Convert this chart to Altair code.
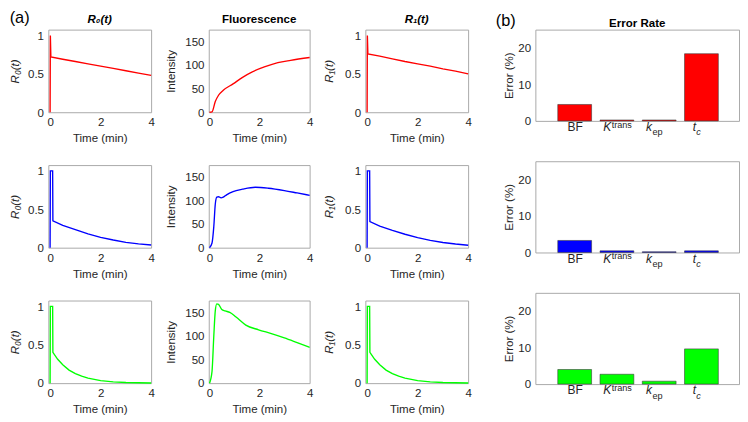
import altair as alt
import pandas as pd

FONT = "Liberation Sans"
INK = "#262626"

# ---------------- data ----------------
time_ticks = [0, 2, 4]
r_ticks = [0, 0.5, 1]
fl_ticks = [0, 50, 100, 150]
err_ticks = [0, 10, 20]

# row 1 (red)
r0_red_t = [0.0, 0.01, 0.03, 0.5, 1.0, 1.5, 2.0, 2.5, 3.0, 3.5, 4.0]
r0_red_v = [0.0, 1.0, 0.72, 0.69, 0.66, 0.63, 0.60, 0.57, 0.54, 0.51, 0.48]
fl_red_t = [0.0, 0.10, 0.23, 0.36, 0.55, 0.94, 1.32, 1.71, 2.22, 2.73, 3.24, 4.0]
fl_red_v = [0.0, 0.8, 22.6, 36.0, 46.6, 60.0, 74.0, 85.6, 96.5, 105.0, 110.0, 116.0]
r1_red_t = [0.0, 0.01, 0.03, 0.5, 1.0, 1.5, 2.0, 2.5, 3.0, 3.5, 4.0]
r1_red_v = [0.0, 1.0, 0.76, 0.73, 0.695, 0.66, 0.63, 0.60, 0.565, 0.535, 0.50]

# row 2 (blue)
r0_blue_t = [0.0, 0.01, 0.10, 0.11, 0.5, 1.0, 1.5, 2.0, 2.5, 3.0, 3.5, 4.0]
r0_blue_v = [0.0, 1.0, 1.0, 0.35, 0.29, 0.235, 0.18, 0.135, 0.10, 0.07, 0.05, 0.035]
fl_blue_t = [0.0, 0.10, 0.17, 0.23, 0.29, 0.36, 0.46, 0.55, 0.68, 0.94, 1.32, 1.83, 2.35, 2.99, 3.5, 4.0]
fl_blue_v = [0.0, 10.0, 44.0, 92.0, 107.0, 108.0, 105.5, 107.0, 112.0, 119.0, 124.0, 128.0, 126.0, 121.0, 116.0, 111.0]
r1_blue_t = [0.0, 0.01, 0.10, 0.11, 0.5, 1.0, 1.5, 2.0, 2.5, 3.0, 3.5, 4.0]
r1_blue_v = [0.0, 1.0, 1.0, 0.34, 0.28, 0.225, 0.175, 0.13, 0.095, 0.068, 0.048, 0.032]

# row 3 (green)
r0_green_t = [0.0, 0.01, 0.10, 0.11, 0.3, 0.5, 0.75, 1.0, 1.25, 1.5, 2.0, 2.5, 3.0, 4.0]
r0_green_v = [0.0, 1.0, 1.0, 0.40, 0.31, 0.24, 0.17, 0.125, 0.09, 0.065, 0.033, 0.017, 0.008, 0.002]
fl_green_t = [0.0, 0.10, 0.17, 0.23, 0.29, 0.36, 0.49, 0.62, 0.81, 1.06, 1.45, 1.96, 2.47, 2.99, 3.5, 4.0]
fl_green_v = [0.0, 25.0, 99.0, 153.0, 168.0, 167.0, 156.0, 153.0, 150.0, 140.0, 123.0, 113.0, 105.0, 96.0, 86.0, 76.0]
r1_green_t = [0.0, 0.01, 0.10, 0.11, 0.3, 0.5, 0.75, 1.0, 1.25, 1.5, 2.0, 2.5, 3.0, 4.0]
r1_green_v = [0.0, 1.0, 1.0, 0.40, 0.31, 0.24, 0.17, 0.125, 0.09, 0.065, 0.033, 0.017, 0.008, 0.002]

# error rates
param_pos = [1, 2, 3, 4]
tick_main = ["BF", "K", "k", "t"]
tick_script = ["", "trans", "ep", "c"]
err_red = [4.5, 0.25, 0.25, 18.4]
err_blue = [3.3, 0.45, 0.2, 0.45]
err_green = [4.0, 2.7, 0.8, 9.65]

colors = ["#ff0000", "#0000ff", "#00ff00"]
panel_titles = ["R₀(t)", "Fluorescence", "R₁(t)", "Error Rate"]

# ---------------- layout constants ----------------
H = 86
HB = 95
WB = 212


def txt(label, x, y, size=12, weight="normal", style="normal", align="left",
        baseline="top", opacity=1, color="black"):
    return alt.Chart(pd.DataFrame({"lab": [label]})).mark_text(
        align=align, baseline=baseline, fontSize=size, font=FONT, color=color,
        fontWeight=weight, fontStyle=style, opacity=opacity,
    ).encode(x=alt.value(x), y=alt.value(y), text="lab:N")


def line_panel(t, v, color, kind, row):
    df = pd.DataFrame({"t": t, "v": v, "i": list(range(len(t)))})
    if kind == "F":
        xdom, w, ydom, yt = [-0.03, 4], 105, [0, 175], fl_ticks
        ytitle, tstyle, tp, interp, fmt = "Intensity", "normal", 7.7, "monotone", "d"
        ttl = panel_titles[1]
    else:
        xdom, w, ydom, yt = [-0.07, 4], 107, [0, 1.075], r_ticks
        ytitle = panel_titles[0] if kind == "R0" else panel_titles[2]
        ttl = ytitle
        tstyle, interp, fmt = "italic", "linear", "~g"
        tp = 6.6 if kind == "R0" else 9.7
    line = alt.Chart(df).mark_line(color=color, strokeWidth=1.4, interpolate=interp).encode(
        x=alt.X("t:Q", scale=alt.Scale(domain=xdom, nice=False, zero=False),
                axis=alt.Axis(values=time_ticks, title="Time (min)", titlePadding=5.8)),
        y=alt.Y("v:Q", scale=alt.Scale(domain=ydom, nice=False),
                axis=alt.Axis(values=yt, format=fmt, title=ytitle,
                              titleFontStyle=tstyle, titlePadding=tp)),
        order="i:Q",
    )
    layers = [line]
    if kind == "R0":
        layers.append(txt("(a)", -40.3, -20 if row == 0 else 20, size=17,
                          opacity=1 if row == 0 else 0))
    elif row == 0:
        layers.append(txt("(a)", 20, -20, size=17, opacity=0))
    if row == 0:
        layers.append(txt(ttl, w / 2, -6.5, size=12, weight="bold",
                          style="italic" if kind != "F" else "normal",
                          align="center", baseline="alphabetic"))
    return alt.layer(*layers).properties(width=w, height=H)


def tick_text(label, pos, xs, dx, dy, size, italic, align):
    return alt.Chart(pd.DataFrame({"pos": [pos], "lab": [label]})).mark_text(
        align=align, baseline="alphabetic", dx=dx, dy=dy, fontSize=size,
        fontStyle="italic" if italic else "normal", font=FONT, color=INK,
    ).encode(x=alt.X("pos:Q", scale=xs), y=alt.value(HB + 10.7), text="lab:N")


def bar_panel(vals, color, row):
    df = pd.DataFrame({"pos": param_pos, "err": vals})
    xs = alt.Scale(domain=[0.07, 4.89], nice=False, zero=False)
    bars = alt.Chart(df).transform_calculate(
        lo="datum.pos - 0.4", hi="datum.pos + 0.4", base="0"
    ).mark_rect(color=color, stroke="#3a3a3a", strokeWidth=0.6).encode(
        x=alt.X("lo:Q", scale=xs, axis=None),
        x2="hi:Q",
        y=alt.Y("err:Q", scale=alt.Scale(domain=[0, 25], nice=False),
                axis=alt.Axis(values=err_ticks, format="d", title="Error (%)",
                              titlePadding=2.7)),
        y2="base:Q",
    )
    layers = [bars]
    layers.append(tick_text(tick_main[0], param_pos[0], xs, 0.5, 0, 12.5, False, "center"))
    layers.append(tick_text(tick_main[1], param_pos[1], xs, -6, 0, 12.5, True, "right"))
    layers.append(tick_text(tick_main[2], param_pos[2], xs, -7.5, 0, 12.5, True, "right"))
    layers.append(tick_text(tick_main[3], param_pos[3], xs, -5.5, 0, 12.5, True, "right"))
    layers.append(tick_text(tick_script[1], param_pos[1], xs, -5.5, -3.5, 9.5, False, "left"))
    layers.append(tick_text(tick_script[2], param_pos[2], xs, -7, 4.5, 9.5, False, "left"))
    layers.append(tick_text(tick_script[3], param_pos[3], xs, -5.5, 4.5, 9.5, True, "left"))
    layers.append(txt("(b)", -41.3, -17 if row == 0 else 20, size=17,
                      opacity=1 if row == 0 else 0))
    if row == 0:
        layers.append(txt(panel_titles[3], WB / 2, -2.5, size=12, weight="bold",
                          align="center", baseline="alphabetic"))
    return alt.layer(*layers).properties(width=WB, height=HB)


r0_data = [(r0_red_t, r0_red_v), (r0_blue_t, r0_blue_v), (r0_green_t, r0_green_v)]
fl_data = [(fl_red_t, fl_red_v), (fl_blue_t, fl_blue_v), (fl_green_t, fl_green_v)]
r1_data = [(r1_red_t, r1_red_v), (r1_blue_t, r1_blue_v), (r1_green_t, r1_green_v)]
err_data = [err_red, err_blue, err_green]

rows = []
for i in range(3):
    rows.append(alt.hconcat(
        line_panel(*r0_data[i], colors[i], "R0", i),
        line_panel(*fl_data[i], colors[i], "F", i),
        line_panel(*r1_data[i], colors[i], "R1", i),
        spacing=9,
    ))
left = alt.vconcat(*rows, spacing=20)
right = alt.vconcat(*[bar_panel(err_data[i], colors[i], i) for i in range(3)], spacing=23)

chart = alt.hconcat(left, right, spacing=24).properties(
    padding={"left": 0, "right": 0, "top": -8, "bottom": 0},
    background="white",
).configure_view(
    stroke="#a6a6a6", strokeWidth=1
).configure_axis(
    labelFont=FONT, titleFont=FONT, labelFontSize=12, titleFontSize=12,
    titleFontWeight="normal", labelColor=INK, titleColor=INK,
    ticks=False, domain=False, grid=False, labelPadding=5,
    labelFlush=False, labelOverlap=False,
)

chart.save("out.html", embed_options={"renderer": "svg", "actions": False})
